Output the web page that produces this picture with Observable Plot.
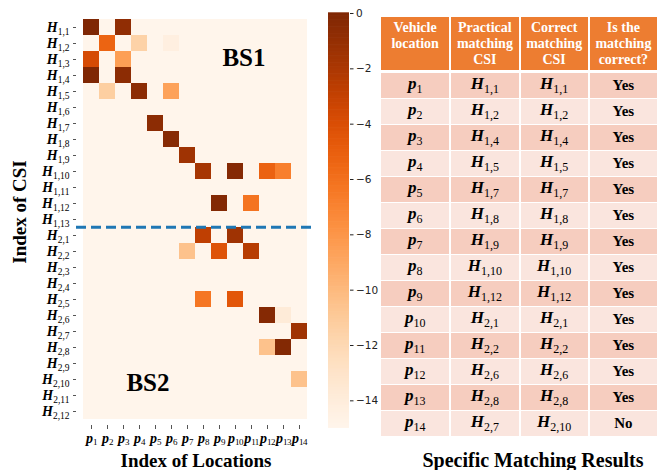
<!DOCTYPE html>
<html>
<head>
<meta charset="utf-8">
<script src="https://cdn.jsdelivr.net/npm/d3@7"></script>
<script src="https://cdn.jsdelivr.net/npm/@observablehq/plot@0.6"></script>
<style>
  body { margin: 0; background: #fff; }
  #page { position: relative; width: 657px; height: 470px; overflow: hidden; background: #fff;
          font-family: "Liberation Serif", "DejaVu Serif", serif; color: #000; }
  .abs { position: absolute; }
  .ylab { left: 20px; top: 212px; transform: translate(-50%, -50%) rotate(-90deg); white-space: nowrap;
          font-weight: bold; font-size: 19px; }
  .xlab { left: 196px; top: 451px; transform: translateX(-50%); white-space: nowrap;
          font-weight: bold; font-size: 19px; line-height: 20px; }
  .ttl { left: 533px; top: 450px; transform: translateX(-50%); white-space: nowrap;
         font-weight: bold; font-size: 20px; line-height: 20px; }
  #tbl { left: 381px; top: 17px; width: 278px; border-collapse: collapse; table-layout: fixed;
         font-family: "Liberation Serif", "DejaVu Serif", serif; }
  #tbl th { background: #ED7D31; color: #fff; font-weight: bold; font-size: 14px; line-height: 16px;
            height: 50px; padding: 3px 0 0 0; vertical-align: top; text-align: center;
            border-right: 2px solid #fff; border-bottom: 3px solid #fff; }
  #tbl td { height: 25px; padding: 0; text-align: center; vertical-align: middle;
            border-right: 2px solid #fff; border-bottom: 1px solid #fff; font-size: 15px; font-weight: bold; }
  #tbl tr.odd td { background: #F6CDBF; }
  #tbl tr.even td { background: #FAE5DE; }
  #tbl .sym { font-style: italic; font-weight: bold; font-size: 17px; }
  #tbl .sub { font-size: 12px; font-weight: normal; vertical-align: -4px; }
</style>
</head>
<body>
<div id="page">
  <div id="heat" class="abs" style="left:0;top:0"></div>
  <div id="cbar" class="abs" style="left:310px;top:0"></div>
  <div class="abs ylab">Index of CSI</div>
  <div class="abs xlab">Index of Locations</div>
  <table id="tbl" class="abs"></table>
  <div class="abs ttl">Specific Matching Results</div>
</div>
<script>
// Vehicle locations (columns) and CSI entries of the two base stations (rows)
const locations = ["p1", "p2", "p3", "p4", "p5", "p6", "p7", "p8", "p9", "p10", "p11", "p12", "p13", "p14"];
const csiRows = [
  "H1,1", "H1,2", "H1,3", "H1,4", "H1,5", "H1,6", "H1,7", "H1,8", "H1,9", "H1,10", "H1,11", "H1,12", "H1,13",
  "H2,1", "H2,2", "H2,3", "H2,4", "H2,5", "H2,6", "H2,7", "H2,8", "H2,9", "H2,10", "H2,11", "H2,12"
];

// Non-floor matching scores (log scale); all other cells sit at the floor value
const hitRows = [
  "H1,1", "H1,1", "H1,2", "H1,2", "H1,2", "H1,3", "H1,3", "H1,4", "H1,4",
  "H1,5", "H1,5", "H1,5", "H1,7", "H1,8", "H1,9",
  "H1,10", "H1,10", "H1,10", "H1,10", "H1,12", "H1,12",
  "H2,1", "H2,1", "H2,2", "H2,2", "H2,2", "H2,5", "H2,5",
  "H2,6", "H2,6", "H2,7", "H2,8", "H2,8", "H2,10"
];
const hitCols = [
  "p1", "p3", "p2", "p4", "p6", "p1", "p3", "p1", "p3",
  "p2", "p4", "p6", "p5", "p6", "p7",
  "p8", "p10", "p12", "p13", "p9", "p11",
  "p8", "p10", "p7", "p9", "p11", "p8", "p10",
  "p12", "p13", "p14", "p12", "p13", "p14"
];
const hitValues = [
  0, -0.8, -5.3, -11.5, -14.3, -3.8, -8.5, 0, -0.6,
  -11.3, -0.6, -8.7, -0.6, -0.4, -1.5,
  -1.8, -0.3, -5.2, -6.8, -0.2, -6.2,
  -2.8, -1.5, -10.5, -4.3, -2.5, -6.3, -4.5,
  -0.3, -13.8, -1.5, -10.5, -0.2, -10.5
];
const floorValue = -15;
const colorDomain = [-15, 0];
const colorTicks = [0, -2, -4, -6, -8, -10, -12, -14];

// Matching table
const tableHeader = ["Vehicle<br>location", "Practical<br>matching<br>CSI", "Correct<br>matching<br>CSI", "Is the<br>matching<br>correct?"];
const tableLocation = ["1", "2", "3", "4", "5", "6", "7", "8", "9", "10", "11", "12", "13", "14"];
const tablePractical = ["1,1", "1,2", "1,4", "1,5", "1,7", "1,8", "1,9", "1,10", "1,12", "2,1", "2,2", "2,6", "2,8", "2,7"];
const tableCorrect = ["1,1", "1,2", "1,4", "1,5", "1,7", "1,8", "1,9", "1,10", "1,12", "2,1", "2,2", "2,6", "2,8", "2,10"];
const tableVerdict = ["Yes", "Yes", "Yes", "Yes", "Yes", "Yes", "Yes", "Yes", "Yes", "Yes", "Yes", "Yes", "Yes", "No"];

// Full grid of cells
const grid = [];
for (const r of csiRows) for (const c of locations) grid.push({r, c, v: floorValue});
hitRows.forEach((r, i) => {
  const cell = grid.find(d => d.r === r && d.c === hitCols[i]);
  cell.v = hitValues[i];
});

const W = 320, H = 470, mL = 76, mR = 7, mT = 13, mB = 45;
const bandY = (H - mT - mB) / csiRows.length;
const bandX = (W - mL - mR) / locations.length;

const heat = Plot.plot({
  width: W, height: H,
  marginLeft: mL, marginRight: mR, marginTop: mT, marginBottom: mB,
  x: {domain: locations, padding: 0, tickSize: 4, tickPadding: 4, label: null},
  y: {domain: csiRows, padding: 0, tickSize: 3, tickPadding: 4, label: null},
  color: {type: "linear", scheme: "oranges", domain: colorDomain},
  style: {fontFamily: "'Liberation Serif', 'DejaVu Serif', serif", fontSize: "13px", color: "#000", background: "transparent"},
  marks: [
    Plot.cell(grid, {x: "c", y: "r", fill: "v", inset: 0}),
    Plot.ruleY(["H2,1"], {dy: -bandY / 2, stroke: "#1f77b4", strokeWidth: 3, strokeDasharray: "10,5"}),
    Plot.text([{x: "p10", y: "H1,3", t: "BS1"}], {x: "x", y: "y", text: "t", dx: bandX / 2, dy: -2,
      fontSize: 25, fontWeight: "bold", fill: "#000"}),
    Plot.text([{x: "p4", y: "H2,10", t: "BS2"}], {x: "x", y: "y", text: "t", dx: bandX / 2, dy: 3,
      fontSize: 25, fontWeight: "bold", fill: "#000"})
  ]
});
document.getElementById("heat").append(heat);

// Turn "H1,1" / "p1" tick labels into a bold italic symbol with a subscript index
const NS = "http://www.w3.org/2000/svg";
function subscriptTicks(svg, axis, mainSize, subSize, shift, spacing) {
  let texts = svg.querySelectorAll(`[aria-label="${axis}-axis tick label"] text`);
  if (!texts.length) texts = svg.querySelectorAll(`[aria-label="${axis}-axis"] .tick text`);
  texts.forEach(t => {
    const s = t.textContent;
    t.textContent = "";
    const a = document.createElementNS(NS, "tspan");
    a.textContent = s[0];
    a.setAttribute("font-style", "italic");
    a.setAttribute("font-weight", "bold");
    a.setAttribute("font-size", mainSize);
    const b = document.createElementNS(NS, "tspan");
    b.textContent = s.slice(1);
    b.setAttribute("font-size", subSize);
    b.setAttribute("dy", shift);
    if (spacing) b.setAttribute("letter-spacing", spacing);
    t.append(a, b);
  });
}
subscriptTicks(heat, "y", 14, 9.5, 3.5);
subscriptTicks(heat, "x", 14, 9, 2.5, -0.6);
heat.querySelectorAll('[aria-label="x-axis tick"] path, [aria-label="y-axis tick"] path').forEach(p => p.setAttribute("stroke", "#555"));

// Vertical colour bar
const step = 0.05;
const slices = d3.range(colorDomain[0], colorDomain[1], step);
const cbar = Plot.plot({
  width: 70, height: H,
  marginLeft: 18, marginRight: 31, marginTop: mT, marginBottom: 42,
  y: {domain: colorDomain, ticks: colorTicks, axis: "right", tickSize: 3.5, tickPadding: 3, label: null},
  color: {type: "linear", scheme: "oranges", domain: colorDomain},
  style: {fontFamily: "'DejaVu Sans', sans-serif", fontSize: "10.5px", color: "#222", background: "transparent"},
  marks: [
    Plot.rect(slices, {y1: d => d, y2: d => d + step * 1.5, fill: d => d + step / 2})
  ]
});
document.getElementById("cbar").append(cbar);

// Matching results table
const tbl = document.getElementById("tbl");
const sym = (letter, idx) => `<span class="sym">${letter}</span><span class="sub">${idx}</span>`;
let html = "<tr>" + tableHeader.map(h => `<th>${h}</th>`).join("") + "</tr>";
tableLocation.forEach((loc, i) => {
  html += `<tr class="${i % 2 === 0 ? "odd" : "even"}">` +
    `<td>${sym("p", loc)}</td>` +
    `<td>${sym("H", tablePractical[i])}</td>` +
    `<td>${sym("H", tableCorrect[i])}</td>` +
    `<td>${tableVerdict[i]}</td></tr>`;
});
tbl.innerHTML = html;
</script>
</body>
</html>
